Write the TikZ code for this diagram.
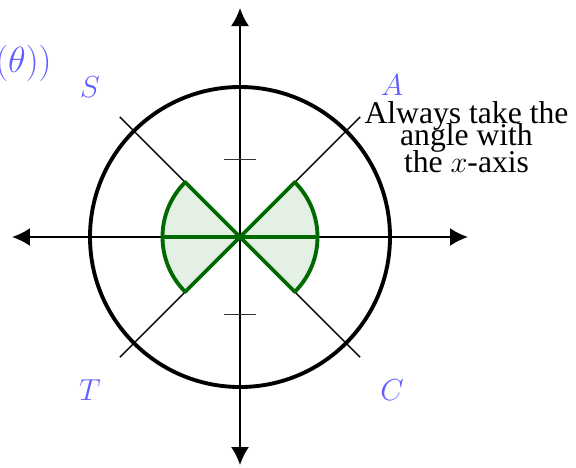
\documentclass[tikz,border=0pt]{standalone}
\usepackage{amsmath,amssymb}
\usepackage{fontspec}
\newfontfamily\notefont{Liberation Serif}
\usetikzlibrary{arrows.meta}
\definecolor{quadblue}{RGB}{95,95,255}
\definecolor{sectgreen}{RGB}{0,105,0}
\newcommand\notesize{\notefont\fontsize{18}{12.5}\selectfont\lineskiplimit=-100pt\relax}
\tikzset{
  axis/.style={line width=1.1pt,{Latex[length=3.6mm,width=3.6mm]}-{Latex[length=3.6mm,width=3.6mm]}},
  quadlabel/.style={text=quadblue,font=\fontsize{17}{20}\selectfont},
  sector/.style={line width=2.2pt,draw=sectgreen,fill=sectgreen,fill opacity=0.1,line join=round},
}
\begin{document}
\begin{tikzpicture}
		\useasboundingbox (-4.8,-4.6) rectangle (6.72,4.74);
		\coordinate (O) at (0,0);
		
		% Axes
		\draw[axis] (-4.56,0) -- (4.56,0);
		\draw[axis] (0,-4.56) -- (0,4.58);
		
		% Diagonals
		\draw[line width=0.8pt] (135:3.4) -- (-45:3.4);
		\draw[line width=0.8pt] (45:3.4) -- (225:3.4);
		
		% The circle
		\draw[line width=2.2pt] (O) circle (3);
		
		% Ticks
		\draw[line width=0.8pt,black!80] (-0.32,1.55) -- (0.32,1.55);
		\draw[line width=0.8pt,black!80] (-0.32,-1.55) -- (0.32,-1.55);
		
		% Sectors
		\draw[sector] (O) -- (-45:1.55) arc (-45:45:1.55) -- cycle;
		\draw[sector] (O) -- (135:1.55) arc (135:225:1.55) -- cycle;
		\draw[line width=2.2pt,sectgreen] (-1.55,0) -- (1.55,0);
		
		% Quadrant labels
		\node[quadlabel] (S) at (-3,3) {$S$};
		\node[quadlabel] (A) at (3.04,3.04) {$A$};
		\node[quadlabel] (T) at (-3,-3.06) {$T$};
		\node[quadlabel] (C) at (3.04,-3.06) {$C$};
		\node[quadlabel,font=\fontsize{22}{26}\selectfont,anchor=east,inner sep=0pt] (theta) at (-3.76,3.48) {$(\theta))$};
		
		% Note
		\node[align=center,anchor=north,inner sep=0pt,font=\notesize] (note) at (4.53,2.72) {%
			Always take the\\
			angle with\\[2.9pt]
			the $x$-axis
		};
		
	\end{tikzpicture}
\end{document}
